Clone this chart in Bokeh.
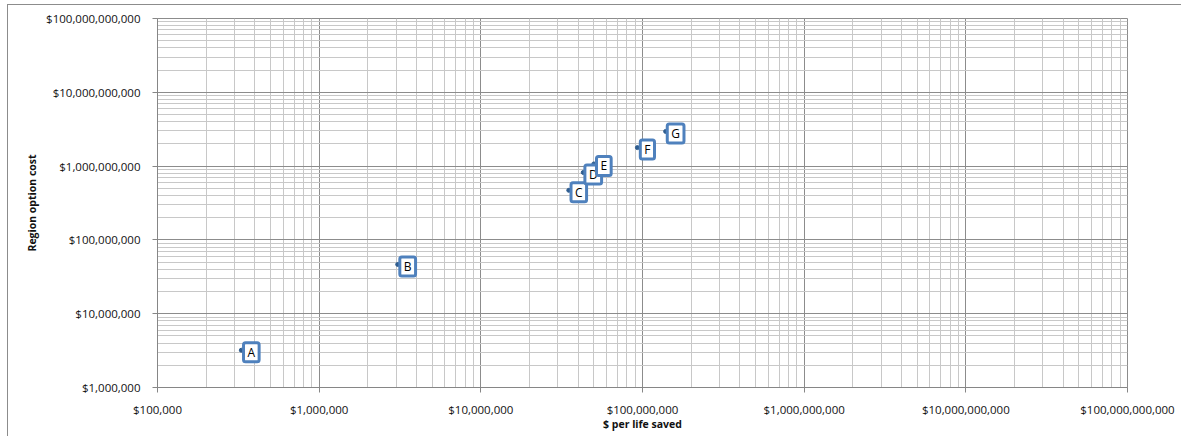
from bokeh.plotting import figure
from bokeh.models import Range1d, FixedTicker, Label
from bokeh.embed import file_html
from bokeh.resources import INLINE

# ---- data ----
option_labels = ["A", "B", "C", "D", "E", "F", "G"]
cost_per_life_saved = [3.3e5, 3.06e6, 3.5e7, 4.3e7, 5.0e7, 9.3e7, 1.39e8]
region_option_cost = [3.2e6, 4.65e7, 4.7e8, 8.2e8, 1.07e9, 1.78e9, 2.95e9]

x_ticks = [10**5, 10**6, 10**7, 10**8, 10**9, 10**10, 10**11]
x_tick_labels = ["$100,000", "$1,000,000", "$10,000,000", "$100,000,000",
                 "$1,000,000,000", "$10,000,000,000", "$100,000,000,000"]
y_ticks = [10**6, 10**7, 10**8, 10**9, 10**10, 10**11]
y_tick_labels = ["$1,000,000", "$10,000,000", "$100,000,000",
                 "$1,000,000,000", "$10,000,000,000", "$100,000,000,000"]

FONT = "Open Sans"
BLUE = "#4F81BD"

p = figure(width=1174, height=432, x_axis_type="log", y_axis_type="log",
           x_range=Range1d(1e5, 1e11), y_range=Range1d(1e6, 1e11),
           output_backend="svg", toolbar_location=None,
           min_border_left=149, min_border_right=55,
           min_border_top=13, min_border_bottom=50)

p.styles = {"margin-left": "7px", "margin-top": "4px",
            "border-left": "1px solid #8C8C8C", "border-top": "1px solid #8C8C8C"}

p.background_fill_color = "white"
p.border_fill_color = "white"
p.outline_line_color = "#8C8C8C"

def minors(ticks):
    return [m * t for t in ticks[:-1] for m in range(2, 10)]

p.xaxis.ticker = FixedTicker(ticks=x_ticks, minor_ticks=minors(x_ticks))
p.yaxis.ticker = FixedTicker(ticks=y_ticks, minor_ticks=minors(y_ticks))
p.xaxis.major_label_overrides = {t: s for t, s in zip(x_ticks, x_tick_labels)}
p.yaxis.major_label_overrides = {t: s for t, s in zip(y_ticks, y_tick_labels)}

for ax in (p.xaxis[0], p.yaxis[0]):
    ax.axis_line_color = "#868686"
    ax.major_tick_line_color = "#868686"
    ax.major_tick_in = 0
    ax.major_tick_out = 5
    ax.minor_tick_in = 0
    ax.minor_tick_out = 0
    ax.major_label_text_font = FONT
    ax.major_label_text_font_size = "11.5px"
    ax.major_label_text_color = "#111111"
    ax.axis_label_text_font = FONT
    ax.axis_label_text_font_size = "10.5px"
    ax.axis_label_text_font_style = "bold"
    ax.axis_label_text_color = "#111111"

p.xaxis.axis_label = "$ per life saved"
p.yaxis.axis_label = "Region option cost"
p.xaxis.major_label_standoff = 9
p.yaxis.major_label_standoff = 12
p.xaxis.axis_label_standoff = -3
p.yaxis.axis_label_standoff = 4

for g in (p.xgrid[0], p.ygrid[0]):
    g.grid_line_color = "#8C8C8C"
    g.grid_line_width = 1
    g.minor_grid_line_color = "#C8C8C8"
    g.minor_grid_line_width = 1

p.scatter(cost_per_life_saved, region_option_cost, size=4, color="#2F5D8F")

for xv, yv, t in zip(cost_per_life_saved, region_option_cost, option_labels):
    shadow = Label(x=xv, y=yv, text=t, x_offset=12, y_offset=-4,
                   text_align="center", text_baseline="middle",
                   text_font=FONT, text_font_size="12px", text_alpha=0,
                   background_fill_color="#000000", background_fill_alpha=0.2,
                   border_line_color=None, padding=(6, 3), border_radius=3)
    p.add_layout(shadow)
    lab = Label(x=xv, y=yv, text=t, x_offset=10, y_offset=-2,
                text_align="center", text_baseline="middle",
                text_font=FONT, text_font_size="12px", text_color="#000000",
                background_fill_color="white", border_line_color=BLUE,
                border_line_width=3, padding=(4, 1), border_radius=2)
    p.add_layout(lab)

open("out.html", "w").write(file_html(p, INLINE))
